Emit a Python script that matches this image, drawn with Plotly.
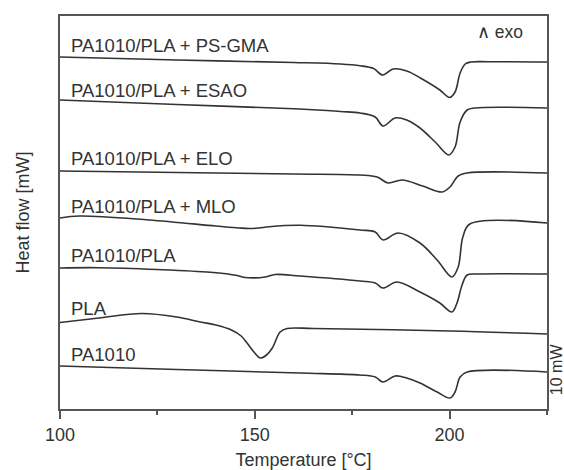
import plotly.graph_objects as go

# ---- data (temperature in °C, heat flow in arbitrary units, curves offset) ----
names = ["PA1010/PLA + PS-GMA", "PA1010/PLA + ESAO", "PA1010/PLA + ELO",
         "PA1010/PLA + MLO", "PA1010/PLA", "PLA", "PA1010"]

psgma_T = [100, 130, 160, 172, 177, 180.5, 182.8, 185.5, 189, 192.5, 197.5, 200, 201.4, 202.7, 204, 205.5, 210, 225]
psgma_H = [352, 349, 346.5, 345, 343.3, 340.5, 334, 340, 338, 331, 319, 311.5, 317, 336, 345, 347, 347.3, 347]

esao_T = [100, 130, 161.6, 172, 177, 180.9, 182.9, 186, 189, 192.4, 196.3, 199.8, 201.4, 202.7, 204.5, 206.5, 225]
esao_H = [309, 304.5, 300, 297.5, 296, 292, 283, 291, 289, 281, 267, 254, 262, 287, 299, 301, 301]

elo_T = [100, 130, 160, 177, 181.4, 184.2, 187.8, 193.1, 198.1, 200.1, 202.2, 204.5, 225]
elo_H = [238, 236.5, 235, 234, 232, 226, 229, 223, 217, 222, 233, 236, 236]

mlo_T = [100, 105, 122.8, 140, 146, 148.6, 151, 153.7, 161.6, 177, 180.9, 182.9, 186.8, 192.4, 196.8, 200.6, 202.2, 203.4, 205.2, 225]
mlo_H = [191, 193, 189, 183, 181, 180.5, 181, 182.3, 183.7, 179, 177, 169, 176, 166, 149, 132, 142, 172, 185, 186]

blend_T = [100, 110, 125, 138.6, 145.5, 147.5, 152.7, 155.2, 161.6, 177, 180.9, 182.9, 186.5, 192.4, 197.5, 200.6, 201.9, 203.2, 204.5, 207, 225]
blend_H = [141, 141.3, 139.5, 136.7, 133.5, 131.5, 132, 134.5, 133, 128, 126, 121, 127, 117, 106, 97, 106, 124, 134, 135, 135]

pla_T = [100, 110, 121, 130, 136, 140, 144, 146.5, 148, 150, 151.4, 153, 154.5, 156.5, 158.3, 165, 200, 225]
pla_H = [86.5, 91, 95.5, 92, 87, 84, 79, 73, 66, 56, 51, 54, 61, 77, 80.5, 80.5, 78, 75]

pa_T = [100, 130, 161.6, 177, 180.9, 182.9, 186, 189, 192.4, 196.8, 200.1, 201.4, 202.7, 204.5, 225]
pa_H = [43, 39.5, 36, 34, 32, 27, 33, 31, 26, 17, 11, 17, 32, 37, 37]

series_T = [psgma_T, esao_T, elo_T, mlo_T, blend_T, pla_T, pa_T]
series_H = [psgma_H, esao_H, elo_H, mlo_H, blend_H, pla_H, pa_H]
label_y = [364, 319, 251, 203, 154, 101, 54.5]

x_ticks = [100, 150, 200]

FONT = "Liberation Sans, Arial, sans-serif"
TXT = "#333333"
LINE = "#333333"
FRAME = "#555555"

fig = go.Figure()
for T, H, n in zip(series_T, series_H, names):
    fig.add_trace(go.Scatter(x=T, y=H, mode="lines", name=n,
                             line=dict(color=LINE, width=1.6, shape="spline", smoothing=1.0),
                             showlegend=False, hoverinfo="skip"))

for n, yy in zip(names, label_y):
    fig.add_annotation(x=102.2, y=yy, text=n, showarrow=False, xanchor="left", yanchor="middle",
                       font=dict(family=FONT, size=18.5, color=TXT))

fig.add_annotation(x=219.3, y=377, text="∧ exo", showarrow=False, xanchor="right", yanchor="middle",
                   font=dict(family=FONT, size=17.5, color=TXT))

fig.add_annotation(xref="paper", yref="paper", x=1.021, y=0.102, text="10 mW", textangle=-90,
                   showarrow=False, xanchor="center", yanchor="middle",
                   font=dict(family=FONT, size=16, color=TXT))

fig.update_layout(
    width=564, height=470,
    margin=dict(l=60, r=17, t=16, b=61),
    paper_bgcolor="white", plot_bgcolor="white",
    font=dict(family=FONT, size=18, color=TXT),
)
fig.update_xaxes(range=[100, 225], tickvals=x_ticks, ticks="outside", ticklen=8, tickwidth=1.5,
                 tickcolor=FRAME, showline=True, linecolor=FRAME, linewidth=1.8, mirror=True,
                 showgrid=False, zeroline=False, automargin=False,
                 minor=dict(tickvals=[125, 175, 225], ticks="outside", ticklen=4, tickwidth=1.5, tickcolor=FRAME),
                 tickfont=dict(family=FONT, size=18, color=TXT),
                 title=dict(text="Temperature [°C]", font=dict(family=FONT, size=18, color=TXT), standoff=14))
fig.update_yaxes(range=[0, 393], showticklabels=False, ticks="", showline=True, linecolor=FRAME,
                 linewidth=1.8, mirror=True, showgrid=False, zeroline=False, automargin=False,
                 title=dict(text="Heat flow [mW]", font=dict(family=FONT, size=18, color=TXT), standoff=24))

fig.write_html("out.html", config={"displayModeBar": False},
               post_script="document.body.style.margin='0';")
